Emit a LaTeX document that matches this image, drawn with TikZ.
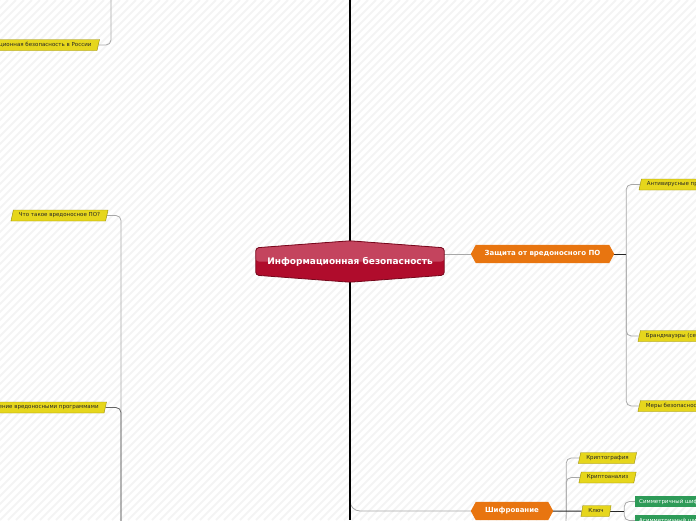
\documentclass[tikz,border=0pt]{standalone}
\usepackage{fontspec}
\setmainfont{DejaVu Sans}
\usetikzlibrary{shapes.geometric,positioning,calc,backgrounds}

\definecolor{mapred}{RGB}{176,12,44}
\definecolor{mapredtop}{RGB}{196,68,94}
\definecolor{mapredline}{RGB}{118,8,28}
\definecolor{maporange}{RGB}{232,117,16}
\definecolor{mapyellow}{RGB}{230,214,28}
\definecolor{mapyellowline}{RGB}{150,138,10}
\definecolor{mapgreen}{RGB}{46,155,88}
\definecolor{maplink}{RGB}{168,168,168}
\definecolor{maplinkdark}{RGB}{100,100,100}
\definecolor{mapstripe}{RGB}{244,244,244}

\begin{document}
\begin{tikzpicture}[x=1pt, y=-1pt,
    root/.style={text=white, font=\fontsize{9}{11}\selectfont\bfseries, minimum width=188pt, minimum height=27pt, inner sep=0pt},
    topic/.style={text=white, font=\fontsize{7}{8}\selectfont\bfseries, minimum height=18pt, inner xsep=3pt, inner ysep=0pt},
    sub/.style={trapezium, trapezium left angle=65, trapezium right angle=115, trapezium stretches body, draw=mapyellowline, line width=0.4pt, fill=mapyellow, text=black!85, font=\fontsize{5.5}{6}\selectfont, minimum height=11pt, inner xsep=5.5pt, inner ysep=0pt},
    leaf/.style={fill=mapgreen, text=white, font=\fontsize{5.5}{6}\selectfont, minimum height=11pt, inner xsep=4pt, inner ysep=0pt, anchor=west},
    link/.style={draw=maplink, line width=0.8pt, rounded corners=5pt},
    stub/.style={draw=black!85, line width=1pt},
    trunk/.style={draw=black, line width=2.6pt},
    stripe/.style={draw=mapstripe, line width=2pt}
]
    \useasboundingbox (0,0) rectangle (696,520);

    % central topic and main branches
    \node[root] (info) at (350,261.5) {Информационная безопасность};
    \node[topic, minimum width=143pt] (prot) at (542.5,254) {Защита от вредоносного ПО};
    \node[topic, minimum width=82pt] (cipher) at (512,511) {Шифрование};

    % left side
    \node[sub, anchor=east] (rus) at (98.5,45) {Информационная безопасность в России};
    \node[sub] (what) at (59.5,215.5) {Что такое вредоносное ПО?};
    \node[sub, anchor=east] (infect) at (105.5,407.5) {Заражение вредоносными программами};

    % protection subtopics
    \node[sub, anchor=west] (anti) at (640,184.5) {Антивирусные программы};
    \node[sub, anchor=west] (firewall) at (639,336) {Брандмауэры (сетевые экраны)};
    \node[sub, anchor=west] (measures) at (639,406) {Меры безопасности};

    % encryption subtopics
    \node[sub] (crypto) at (607.5,458) {Криптография};
    \node[sub] (cryan) at (607.5,477.5) {Криптоанализ};
    \node[sub] (key) at (596,511) {Ключ};
    \node[leaf] (sym) at (635,501.5) {Симметричный шифр};
    \node[leaf] (asym) at (635,520.5) {Асимметричный шифр};

    \coordinate (trunktop) at (350,0);
    \coordinate (trunkbot) at (350,520);
    \coordinate (trunkfork) at (350,488);
    \coordinate (rusup) at (111,0);
    \coordinate (leftdown) at (121,525);
    \coordinate (protfork) at ($(prot.east)+(12,0)$);
    \coordinate (cipherfork) at ($(cipher.east)+(13,0)$);
    \coordinate (cipherdown) at (566,525);
    \coordinate (keyfork) at ($(key.east)+(14,0)$);

    \begin{scope}[on background layer]
        \foreach \s in {-520,-512,...,696}
            \path[stripe] (\s,520) -- ++(520,-520);

        % connectors
        \path[link] (rus.east) -| (rusup);
        \path[link] (what.east) -| (leftdown);
        \path[link, draw=maplinkdark] (infect.east) -| (leftdown);
        \path[link] (prot.west) -- (prot.west -| info.east);
        \path[link, rounded corners=10pt] (trunkfork) |- (cipher.west);
        \path[link] (protfork) |- (anti.west);
        \path[link] (protfork) |- (firewall.west);
        \path[link] (protfork) |- (measures.west);
        \path[stub] (prot.east) -- (protfork);
        \path[link] (cipherfork) |- (crypto.west);
        \path[link] (cipherfork) |- (cryan.west);
        \path[link] (cipherfork) -- (cipherdown);
        \path[stub] (cipher.east) -- (key.west);
        \path[link] (keyfork) |- (sym.west);
        \path[link] (keyfork) |- (asym.west);
        \path[stub] (key.east) -- (keyfork);
        \path[trunk] (trunktop) -- (trunkbot);

        % node outlines
        \path[fill=mapred, draw=mapredline, line width=0.8pt, rounded corners=3pt,
              path picture={\fill[mapredtop] (path picture bounding box.north west) rectangle (path picture bounding box.east);}]
            (info.north west) -- ($(info.north)+(0,-7)$) -- (info.north east)
            -- (info.south east) -- ($(info.south)+(0,7)$) -- (info.south west) -- cycle;
        \fill[maporange] (prot.west) -- ($(prot.north west)+(5,0)$) -- ($(prot.north east)+(-5,0)$)
            -- (prot.east) -- ($(prot.south east)+(-5,0)$) -- ($(prot.south west)+(5,0)$) -- cycle;
        \fill[maporange] (cipher.west) -- ($(cipher.north west)+(5,0)$) -- ($(cipher.north east)+(-5,0)$)
            -- (cipher.east) -- ($(cipher.south east)+(-5,0)$) -- ($(cipher.south west)+(5,0)$) -- cycle;
    \end{scope}
\end{tikzpicture}
\end{document}
